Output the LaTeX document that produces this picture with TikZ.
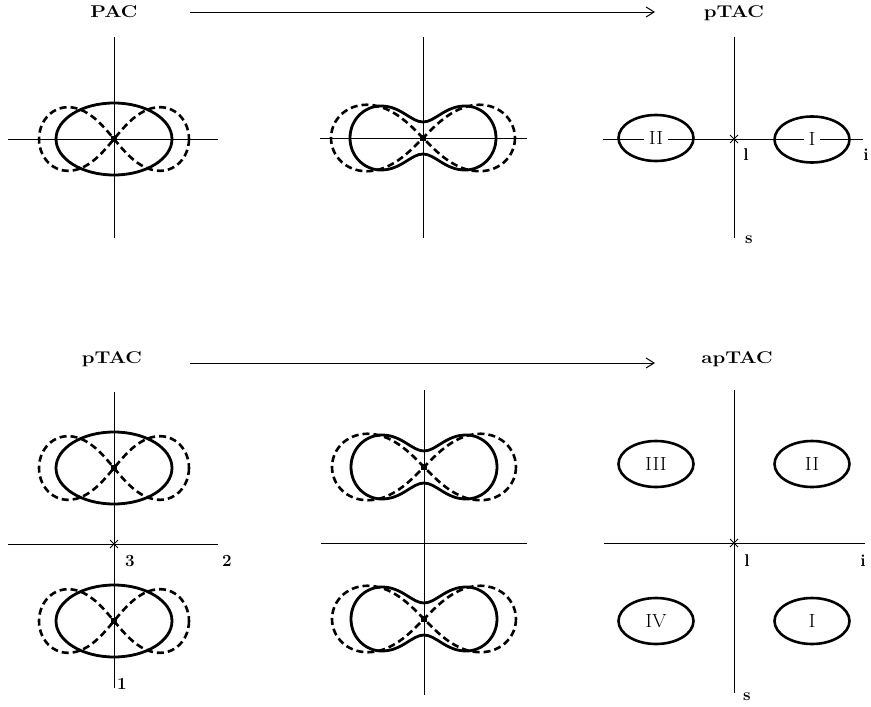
\documentclass[tikz,border=0pt]{standalone}
\usetikzlibrary{arrows.meta,shapes.geometric}
\begin{document}
\begin{tikzpicture}[x=1pt,y=-1pt,
  axis/.style={line width=1pt},
  solidshape/.style={line width=2.8pt},
  dashshape/.style={line width=2.6pt, dash pattern=on 7pt off 4pt},
  title/.style={font=\fontsize{17}{20}\selectfont\bfseries, text height=11.5pt, text depth=0pt, inner sep=0pt},
  romanlab/.style={font=\fontsize{19}{22}\selectfont, fill=white, inner xsep=5pt, inner ysep=1pt},
  boldlab/.style={font=\fontsize{17}{20}\selectfont\bfseries, inner sep=0pt},
  ring/.style={draw, ellipse, line width=2.6pt, minimum width=75pt, minimum height=46pt, inner sep=0pt,
    font=\fontsize{19}{22}\selectfont},
  arr/.style={line width=1pt, -{Straight Barb[length=8pt,width=10pt,line width=1pt]}},
  cdot/.style={fill=black},
  pics/ellipselobes/.style={code={
    \draw[dashshape] plot[domain=0:360, samples=145]
      ({75*cos(\x)/(1+pow(sin(\x),2))}, {90*sin(\x)*cos(\x)/(1+pow(sin(\x),2))}) -- cycle;
    \draw[solidshape] (0,0) ellipse [x radius=58, y radius=36];
    \fill[cdot] (-3,-3) rectangle (3,3);
  }},
  pics/peanutlobes/.style={code={
    \draw[dashshape] plot[domain=0:360, samples=145]
      ({92*cos(\x)/(1+pow(sin(\x),2))}, {94*sin(\x)*cos(\x)/(1+pow(sin(\x),2))}) -- cycle;
    \draw[solidshape] (0,16) .. controls (12,16) and (22,32) .. (42,32)
      .. controls (59,32) and (73,18) .. (73,0)
      .. controls (73,-18) and (59,-32) .. (42,-32)
      .. controls (22,-32) and (12,-16) .. (0,-16)
      .. controls (-12,-16) and (-22,-32) .. (-42,-32)
      .. controls (-59,-32) and (-73,-18) .. (-73,0)
      .. controls (-73,18) and (-59,32) .. (-42,32)
      .. controls (-22,32) and (-12,16) .. (0,16) -- cycle;
    \fill[cdot] (-3,-3) rectangle (3,3);
  }}
]
\useasboundingbox (0,0) rectangle (871,707);

% ---------- titles and arrows ----------
\node[title] (PAC) at (114,12) {\scalebox{1.2}[1]{PAC}};
\node[title] (pTACtop) at (734,12) {\scalebox{1.2}[1]{pTAC}};
\coordinate (a1s) at (190,12);
\coordinate (a1e) at (655,12);
\draw[arr] (a1s) -- (a1e);

\node[title] (pTACbot) at (112,358) {\scalebox{1.2}[1]{pTAC}};
\node[title] (apTAC) at (737,358) {\scalebox{1.2}[1]{apTAC}};
\coordinate (a2s) at (190,363);
\coordinate (a2e) at (655,363);
\draw[arr] (a2s) -- (a2e);

% ---------- top left ----------
\draw[axis] (114,37) -- (114,238);
\draw[axis] (8,139) -- (218,139);
\pic at (114,139) {ellipselobes};

% ---------- top middle ----------
\draw[axis] (423,37) -- (423,238);
\draw[axis] (320,138) -- (527,138);
\pic at (423,138) {peanutlobes};

% ---------- top right ----------
\draw[axis] (734,37) -- (734,238);
\draw[axis] (603,139) -- (863,139);
\coordinate (o1) at (734,139);
\draw[axis] (o1) +(-4,-4) -- +(4,4) +(-4,4) -- +(4,-4);
\node[romanlab] (tII) at (656,138) {\scalebox{1.1}[1]{II}};
\node[romanlab] (tI) at (812,139) {\scalebox{1.1}[1]{I}};
\node[ring] (rtII) at (656,138) {};
\node[ring] (rtI) at (812,139.5) {};
\node[boldlab] (tl) at (746,155) {l};
\node[boldlab] (ti) at (866,155) {i};
\node[boldlab] (ts) at (749,240) {s};

% ---------- bottom left ----------
\draw[axis] (114,392) -- (114,688);
\draw[axis] (8,544) -- (218,544);
\coordinate (o2) at (114,544);
\draw[axis] (o2) +(-4,-4) -- +(4,4) +(-4,4) -- +(4,-4);
\pic at (114,468) {ellipselobes};
\pic at (114,621) {ellipselobes};
\node[boldlab] (b3) at (130,561) {3};
\node[boldlab] (b2) at (227,561) {2};
\node[boldlab] (b1) at (122,684) {1};

% ---------- bottom middle ----------
\draw[axis] (424,390) -- (424,695);
\draw[axis] (321,543) -- (527,543);
\pic at (424,467) {peanutlobes};
\pic at (424,619) {peanutlobes};

% ---------- bottom right ----------
\draw[axis] (734,390) -- (734,693);
\draw[axis] (604,543) -- (865,543);
\coordinate (o3) at (734,543);
\draw[axis] (o3) +(-4,-4) -- +(4,4) +(-4,4) -- +(4,-4);
\node[ring] (rIII) at (656,464) {\scalebox{1.1}[1]{III}};
\node[ring] (rII) at (812,464) {\scalebox{1.1}[1]{II}};
\node[ring] (rIV) at (656,621) {\scalebox{1.1}[1]{IV}};
\node[ring] (rI) at (812,621) {\scalebox{1.1}[1]{I}};
\node[boldlab] (bl) at (747,561) {l};
\node[boldlab] (bi) at (863,561) {i};
\node[boldlab] (bs) at (747,697) {s};
\end{tikzpicture}
\end{document}
